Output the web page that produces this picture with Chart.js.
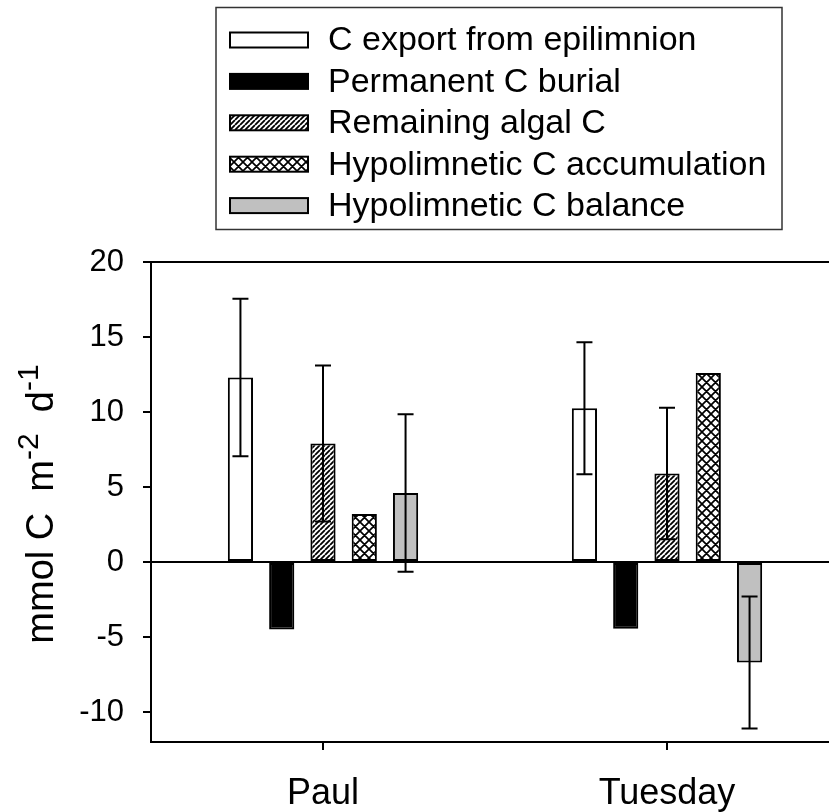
<!DOCTYPE html>
<html>
<head>
<meta charset="utf-8">
<script src="https://cdn.jsdelivr.net/npm/chart.js@4.4.0/dist/chart.umd.min.js"></script>
<style>
  html, body { margin: 0; padding: 0; background: #fff; overflow: hidden; }
  canvas { display: block; }
</style>
</head>
<body>
<canvas id="chart" width="840" height="812"></canvas>
<script>
// data
const lakes = ["Paul", "Tuesday"];
const seriesNames = [
  "C export from epilimnion",
  "Permanent C burial",
  "Remaining algal C",
  "Hypolimnetic C accumulation",
  "Hypolimnetic C balance",
];
const exportC = [12.3, 10.25];
const exportErr = [5.25, 4.4];
const burialC = [-4.5, -4.45];
const algalC = [7.9, 5.9];
const algalErr = [5.2, 4.38];
const accumC = [3.2, 12.6];
const balanceC = [4.6, -6.7];
const balanceErr = [5.25, 4.4];
const yTicks = [-10, -5, 0, 5, 10, 15, 20];

const FONT = "'Liberation Sans', Arial, sans-serif";
const canvas = document.getElementById("chart");
const ctx = canvas.getContext("2d");

function makePattern(size, draw) {
  const c = document.createElement("canvas");
  c.width = c.height = size;
  const g = c.getContext("2d");
  g.fillStyle = "#fff";
  g.fillRect(0, 0, size, size);
  g.strokeStyle = "#000";
  draw(g, size);
  return ctx.createPattern(c, "repeat");
}

// "/////" hatch
const hatch = makePattern(5, (g, s) => {
  g.lineWidth = 1.8;
  g.beginPath();
  for (let k = -1; k <= 1; k++) {
    g.moveTo(k * s, s);
    g.lineTo(k * s + s, 0);
  }
  g.stroke();
});

// cross hatch
const cross = makePattern(9, (g, s) => {
  g.lineWidth = 1.7;
  g.beginPath();
  for (let k = -1; k <= 1; k++) {
    g.moveTo(k * s, s);
    g.lineTo(k * s + s, 0);
    g.moveTo(k * s, 0);
    g.lineTo(k * s + s, s);
  }
  g.stroke();
});

// error bars with caps
const errorBars = {
  id: "errorBars",
  afterDatasetsDraw(chart) {
    const y = chart.scales.y;
    const c = chart.ctx;
    chart.data.datasets.forEach((ds, i) => {
      if (!ds.errors) return;
      chart.getDatasetMeta(i).data.forEach((bar, j) => {
        const v = ds.data[j];
        const e = ds.errors[j];
        const hi = y.getPixelForValue(v + e);
        const lo = y.getPixelForValue(v - e);
        c.save();
        c.strokeStyle = "#000";
        c.lineWidth = 2;
        c.beginPath();
        c.moveTo(bar.x, hi);
        c.lineTo(bar.x, lo);
        c.moveTo(bar.x - 8, hi);
        c.lineTo(bar.x + 8, hi);
        c.moveTo(bar.x - 8, lo);
        c.lineTo(bar.x + 8, lo);
        c.stroke();
        c.restore();
      });
    });
  },
};

// top frame line, legend box and y title
const extras = {
  id: "extras",
  afterDraw(chart) {
    const c = chart.ctx;
    const a = chart.chartArea;
    c.save();
    c.strokeStyle = "#000";
    c.lineWidth = 2;
    c.beginPath();
    c.moveTo(a.left, a.top);
    c.lineTo(a.right, a.top);
    c.stroke();

    // legend
    c.lineWidth = 1.5;
    c.strokeStyle = "#333";
    c.strokeRect(216, 7.5, 566, 222);
    c.font = "34px " + FONT;
    c.textBaseline = "middle";
    c.fillStyle = "#000";
    chart.data.datasets.forEach((ds, i) => {
      const cy = 40 + i * 41.4;
      c.fillStyle = ds.backgroundColor;
      c.fillRect(230, cy - 7.5, 78, 15);
      c.strokeStyle = "#000";
      c.lineWidth = 2;
      c.strokeRect(230, cy - 7.5, 78, 15);
      c.fillStyle = "#000";
      c.fillText(ds.label, 328, cy + 1);
    });

    // y title with superscripts
    const parts = [
      ["mmol C  m", 0],
      ["-2", 1],
      ["  d", 0],
      ["-1", 1],
    ];
    const big = "38px " + FONT;
    const small = "30px " + FONT;
    let total = 0;
    parts.forEach(([t, sup]) => {
      c.font = sup ? small : big;
      total += c.measureText(t).width;
    });
    c.translate(53, 504);
    c.rotate(-Math.PI / 2);
    c.textBaseline = "alphabetic";
    c.textAlign = "left";
    let x = -total / 2;
    parts.forEach(([t, sup]) => {
      c.font = sup ? small : big;
      c.fillText(t, x, sup ? -15 : 0);
      x += c.measureText(t).width;
    });
    c.restore();
  },
};

const bar = (label, data, fill, errors) => ({
  label,
  data,
  errors,
  backgroundColor: fill,
  borderColor: "#000",
  borderWidth: 2,
  borderSkipped: false,
  barPercentage: 0.61,
  categoryPercentage: 0.6,
});

new Chart(ctx, {
  type: "bar",
  data: {
    labels: lakes,
    datasets: [
      bar(seriesNames[0], exportC, "#ffffff", exportErr),
      bar(seriesNames[1], burialC, "#000000"),
      bar(seriesNames[2], algalC, hatch, algalErr),
      bar(seriesNames[3], accumC, cross),
      bar(seriesNames[4], balanceC, "#c0c0c0", balanceErr),
    ],
  },
  options: {
    responsive: false,
    animation: false,
    layout: { padding: { top: 262, right: 1, left: 0, bottom: 0 } },
    plugins: {
      legend: { display: false },
      tooltip: { enabled: false },
    },
    scales: {
      x: {
        grid: {
          offset: false,
          drawOnChartArea: false,
          drawTicks: true,
          tickLength: 8,
          color: "#000",
          lineWidth: 2,
        },
        border: { display: true, color: "#000", width: 2 },
        ticks: { color: "#000", font: { family: FONT, size: 36 }, padding: 22 },
        afterFit(s) {
          s.height = 70;
        },
      },
      y: {
        min: -12,
        max: 20,
        afterBuildTicks(s) {
          s.ticks = yTicks.map((v) => ({ value: v }));
        },
        grid: {
          drawOnChartArea: true,
          color: (c) => (c.tick && c.tick.value === 0 ? "#000" : "rgba(0,0,0,0)"),
          tickColor: "#000",
          lineWidth: 2,
          tickLength: 8,
        },
        border: { display: true, color: "#000", width: 2 },
        ticks: { color: "#000", font: { family: FONT, size: 31 }, padding: 19 },
        afterFit(s) {
          s.width = 151;
        },
      },
    },
  },
  plugins: [errorBars, extras],
});
</script>
</body>
</html>
